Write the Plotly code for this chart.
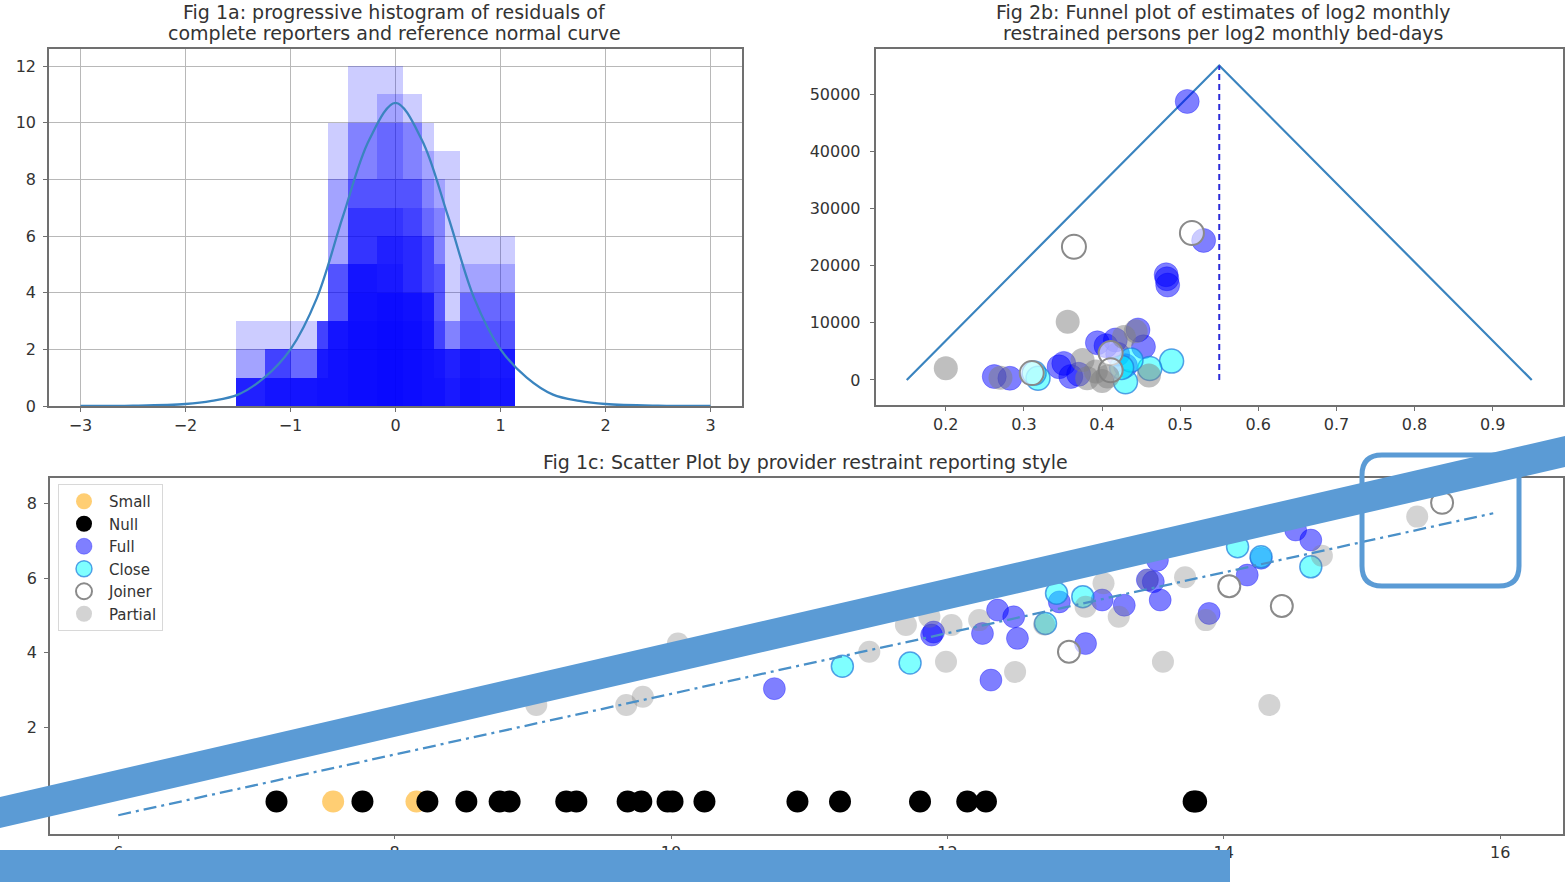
import plotly.graph_objects as go

# ---------------- data: Fig 1a (progressive histogram layers) ----------------
hist_edges = [-1.52, -1.24, -1.0, -0.75, -0.64, -0.45, -0.18, 0.07, 0.25, 0.37, 0.47, 0.61, 0.80, 1.14]
hist_layers = [
    [3, 3, 3, 3, 10, 12, 12, 11, 10, 9, 9, 6, 6],
    [2, 2, 2, 3, 8, 10, 11, 10, 9, 8, 3, 5, 5],
    [1, 2, 2, 3, 5, 10, 10, 10, 8, 7, 3, 4, 4],
    [1, 2, 1, 3, 5, 8, 10, 8, 7, 5, 2, 4, 4],
    [1, 2, 1, 3, 5, 8, 8, 8, 6, 5, 2, 3, 3],
    [1, 1, 1, 2, 3, 7, 7, 7, 6, 3, 2, 2, 2],
    [0, 1, 1, 2, 3, 7, 7, 6, 4, 2, 2, 2, 2],
    [0, 1, 1, 2, 3, 5, 6, 6, 4, 2, 0, 2, 2],
    [0, 0, 0, 1, 3, 5, 6, 4, 4, 2, 0, 2, 0],
    [0, 0, 0, 0, 0, 5, 4, 4, 0, 0, 0, 0, 0],
    [0, 0, 0, 0, 0, 0, 4, 0, 0, 0, 0, 0, 0],
    [1, 2, 2, 3, 3, 5, 5, 4, 4, 2, 2, 2, 2],
    [1, 1, 1, 2, 3, 4, 4, 4, 3, 2, 2, 2, 2],
    [1, 1, 1, 1, 2, 3, 3, 3, 2, 1, 1, 1, 1],
]
curve_x = [-3, -2.5, -2, -1.75, -1.5, -1.25, -1, -0.75, -0.5, -0.25, 0, 0.25, 0.5, 0.75, 1, 1.25, 1.5, 1.75, 2, 2.5, 3]
curve_y = [0, 0.01, 0.07, 0.18, 0.4, 1.0, 2.0, 3.8, 6.7, 9.4, 10.7, 9.4, 6.7, 3.8, 2.0, 1.0, 0.4, 0.18, 0.07, 0.01, 0]

# ---------------- data: Fig 2b (funnel) ----------------
funnel_x = [0.15, 0.55, 0.95]
funnel_y = [0, 55000, 0]
center_x = [0.55, 0.55]
center_y = [0, 55000]
f_full_x = [0.509, 0.530, 0.482, 0.484, 0.483, 0.446, 0.394, 0.417, 0.453, 0.351, 0.262, 0.282, 0.345, 0.360, 0.420, 0.430, 0.370, 0.405]
f_full_y = [48700, 24400, 18400, 16600, 17700, 8750, 6500, 7000, 5800, 2900, 600, 300, 2300, 600, 4500, 2500, 1000, 6000]
f_partial_x = [0.356, 0.200, 0.443, 0.375, 0.381, 0.407, 0.270, 0.400, 0.460, 0.428, 0.392]
f_partial_y = [10200, 2050, 8500, 3500, 300, 600, 400, -200, 800, 7500, 1500]
f_close_x = [0.489, 0.461, 0.430, 0.318, 0.313, 0.437, 0.425]
f_close_y = [3300, 2000, -300, 300, 1200, 3500, 2200]
f_joiner_x = [0.515, 0.364, 0.411, 0.411, 0.310]
f_joiner_y = [25700, 23300, 4700, 1700, 1200]

# ---------------- data: Fig 1c (scatter by reporting style) ----------------
small_x = [7.555, 8.158]
small_y = [0, 0]
null_x = [7.145, 7.767, 8.237, 8.519, 8.76, 8.832, 9.242, 9.315, 9.686, 9.785, 9.975, 10.011,
          10.242, 10.915, 11.223, 11.802, 12.144, 12.279, 13.782, 13.80]
null_y = [0, 0, 0, 0, 0, 0, 0, 0, 0, 0, 0, 0, 0, 0, 0, 0, 0, 0, 0, 0]
full_x = [10.748, 11.886, 11.90, 12.254, 12.315, 12.363, 12.48, 12.507, 13.0, 12.81, 13.12, 13.28,
          13.447, 13.49, 13.54, 13.52, 13.894, 14.17, 14.27, 14.52, 14.63]
full_y = [3.03, 4.47, 4.55, 4.51, 3.26, 5.14, 4.96, 4.38, 4.24, 5.36, 5.41, 5.27,
          5.95, 5.90, 5.41, 6.48, 5.05, 6.08, 6.53, 7.29, 7.02]
close_x = [11.24, 11.73, 12.71, 12.79, 12.98, 14.10, 14.27, 14.63]
close_y = [3.63, 3.72, 4.78, 5.59, 5.50, 6.84, 6.57, 6.30]
joiner_x = [12.88, 14.04, 14.42, 15.58]
joiner_y = [4.02, 5.78, 5.25, 8.02]
partial_x = [9.025, 9.676, 9.796, 10.05, 11.435, 11.70, 11.87, 12.03, 11.99, 12.23, 12.49,
             13.13, 13.24, 13.0, 13.72, 13.56, 13.87, 14.33, 14.71, 15.40, 12.70, 13.45]
partial_y = [2.59, 2.59, 2.81, 4.24, 4.02, 4.74, 4.96, 4.74, 3.75, 4.87, 3.48,
             5.86, 4.96, 5.23, 6.02, 3.75, 4.87, 2.59, 6.6, 7.65, 4.75, 5.95]
fit_x = [6.0, 15.95]
fit_y = [-0.37, 7.74]

# ---------------- styling / geometry ----------------
W, H = 1565, 882
FONT = "DejaVu Sans"
TXT = "#333333"
FRAME = "#707070"
C0 = "#3a84bf"
DECO = "#5b9bd5"
TITLE_SIZE = 19
TICK_SIZE = 16


def px(x):
    return x / W


def py(y):
    return 1 - y / H


fig = go.Figure()

# Fig 1a
centers = [(a + b) / 2 for a, b in zip(hist_edges[:-1], hist_edges[1:])]
widths = [b - a for a, b in zip(hist_edges[:-1], hist_edges[1:])]
for layer in hist_layers:
    fig.add_trace(go.Bar(x=centers, y=layer, width=widths, xaxis="x", yaxis="y",
                         marker=dict(color="rgba(0,0,255,0.2)", line=dict(width=0)),
                         showlegend=False, hoverinfo="skip"))
fig.add_trace(go.Scatter(x=curve_x, y=curve_y, mode="lines", xaxis="x", yaxis="y",
                         line=dict(color=C0, width=2.3, shape="spline"), showlegend=False))

# Fig 2b
fig.add_trace(go.Scatter(x=funnel_x, y=funnel_y, mode="lines", xaxis="x2", yaxis="y2",
                         line=dict(color=C0, width=2.2), showlegend=False))
fig.add_trace(go.Scatter(x=center_x, y=center_y, mode="lines", xaxis="x2", yaxis="y2",
                         line=dict(color="#2b2bd9", width=2, dash="6px,4px"), showlegend=False))
MS2 = 24
fig.add_trace(go.Scatter(x=f_full_x, y=f_full_y, mode="markers", xaxis="x2", yaxis="y2", showlegend=False,
                         marker=dict(size=MS2, color="rgba(0,0,255,0.5)", line=dict(width=1, color="rgba(0,0,255,0.3)"))))
fig.add_trace(go.Scatter(x=f_close_x, y=f_close_y, mode="markers", xaxis="x2", yaxis="y2", showlegend=False,
                         marker=dict(size=MS2, color="rgba(0,255,255,0.5)", line=dict(width=1.5, color="rgba(31,119,220,0.7)"))))
fig.add_trace(go.Scatter(x=f_joiner_x, y=f_joiner_y, mode="markers", xaxis="x2", yaxis="y2", showlegend=False,
                         marker=dict(size=MS2, color="rgba(255,255,255,0.6)", line=dict(width=2, color="#8a8a8a"))))
fig.add_trace(go.Scatter(x=f_partial_x, y=f_partial_y, mode="markers", xaxis="x2", yaxis="y2", showlegend=False,
                         marker=dict(size=MS2, color="rgba(128,128,128,0.5)", line=dict(width=0))))

# Fig 1c
MS3 = 22
fig.add_trace(go.Scatter(x=small_x, y=small_y, mode="markers", name="Small", xaxis="x3", yaxis="y3",
                         marker=dict(size=MS3, color="rgba(255,165,0,0.55)", line=dict(width=0))))
fig.add_trace(go.Scatter(x=null_x, y=null_y, mode="markers", name="Null", xaxis="x3", yaxis="y3",
                         marker=dict(size=MS3, color="black", line=dict(width=0))))
fig.add_trace(go.Scatter(x=full_x, y=full_y, mode="markers", name="Full", xaxis="x3", yaxis="y3",
                         marker=dict(size=MS3, color="rgba(0,0,255,0.5)", line=dict(width=1, color="rgba(0,0,255,0.3)"))))
fig.add_trace(go.Scatter(x=close_x, y=close_y, mode="markers", name="Close", xaxis="x3", yaxis="y3",
                         marker=dict(size=MS3, color="rgba(0,255,255,0.5)", line=dict(width=1.5, color="rgba(31,119,220,0.7)"))))
fig.add_trace(go.Scatter(x=joiner_x, y=joiner_y, mode="markers", name="Joiner", xaxis="x3", yaxis="y3",
                         marker=dict(size=MS3, color="rgba(255,255,255,0.6)", line=dict(width=2, color="#8a8a8a"))))
fig.add_trace(go.Scatter(x=partial_x, y=partial_y, mode="markers", name="Partial", xaxis="x3", yaxis="y3",
                         marker=dict(size=MS3, color="rgba(128,128,128,0.35)", line=dict(width=0))))
fig.add_trace(go.Scatter(x=fit_x, y=fit_y, mode="lines", xaxis="x3", yaxis="y3", showlegend=False,
                         line=dict(color="#4a90c8", width=2.3, dash="13px,5px,3px,5px")))

axis_common = dict(showline=True, mirror=True, linecolor=FRAME, linewidth=1.5,
                   ticks="outside", ticklen=4, tickcolor=FRAME, tickwidth=1,
                   tickfont=dict(family=FONT, size=TICK_SIZE, color=TXT),
                   zeroline=False, automargin=False, fixedrange=True)


def title_line(text, xc, yc):
    return dict(text=text, x=px(xc), y=py(yc), xref="paper", yref="paper",
                xanchor="center", yanchor="middle", showarrow=False,
                font=dict(family=FONT, size=TITLE_SIZE, color=TXT))


fig.update_layout(
    width=W, height=H,
    margin=dict(l=0, r=0, t=0, b=0),
    paper_bgcolor="white", plot_bgcolor="white",
    barmode="overlay", bargap=0,
    font=dict(family=FONT, color=TXT),
    xaxis=dict(axis_common, domain=[px(49), px(742)], range=[-3.3, 3.3], tickvals=[-3, -2, -1, 0, 1, 2, 3],
               showgrid=True, gridcolor="#b8b8b8", gridwidth=1, anchor="y"),
    yaxis=dict(axis_common, domain=[py(406), py(49)], range=[0, 12.6], tickvals=[0, 2, 4, 6, 8, 10, 12],
               showgrid=True, gridcolor="#b8b8b8", gridwidth=1, anchor="x", ticklabelstandoff=4),
    xaxis2=dict(axis_common, domain=[px(875.5), px(1563)], range=[0.11, 0.99],
                tickvals=[0.2, 0.3, 0.4, 0.5, 0.6, 0.7, 0.8, 0.9], showgrid=False, anchor="y2"),
    yaxis2=dict(axis_common, domain=[py(405), py(49)], range=[-4375, 57875],
                tickvals=[0, 10000, 20000, 30000, 40000, 50000], tickformat="d", showgrid=False, anchor="x2",
                ticklabelstandoff=6),
    xaxis3=dict(axis_common, domain=[px(50), px(1563)], range=[5.506, 16.455],
                tickvals=[6, 8, 10, 12, 14, 16], showgrid=False, anchor="y3"),
    yaxis3=dict(axis_common, domain=[py(833.5), py(477.5)], range=[-0.86, 8.70],
                tickvals=[0, 2, 4, 6, 8], showgrid=False, anchor="x3", ticklabelstandoff=4),
    legend=dict(x=px(58), y=py(484), xanchor="left", yanchor="top",
                bgcolor="rgba(255,255,255,0.9)", bordercolor="#d8d8d8", borderwidth=1,
                font=dict(family=FONT, size=15, color=TXT), itemwidth=40, tracegroupgap=0),
    annotations=[
        title_line("Fig 1a: progressive histogram of residuals of", 394, 12),
        title_line("complete reporters and reference normal curve", 394, 33),
        title_line("Fig 2b: Funnel plot of estimates of log2 monthly", 1223, 12),
        title_line("restrained persons per log2 monthly bed-days", 1223, 33),
        title_line("Fig 1c: Scatter Plot by provider restraint reporting style", 806, 462),
    ],
)

# decorative overlays (drawn on the picture)
rx0, rx1, ry0, ry1, rr = 1362, 1519, 455, 586, 20
rpath = (f"M {px(rx0 + rr)},{py(ry0)} L {px(rx1 - rr)},{py(ry0)} "
         f"Q {px(rx1)},{py(ry0)} {px(rx1)},{py(ry0 + rr)} L {px(rx1)},{py(ry1 - rr)} "
         f"Q {px(rx1)},{py(ry1)} {px(rx1 - rr)},{py(ry1)} L {px(rx0 + rr)},{py(ry1)} "
         f"Q {px(rx0)},{py(ry1)} {px(rx0)},{py(ry1 - rr)} L {px(rx0)},{py(ry0 + rr)} "
         f"Q {px(rx0)},{py(ry0)} {px(rx0 + rr)},{py(ry0)} Z")
band_path = (f"M {px(0)},{py(797)} L {px(W)},{py(436)} L {px(W)},{py(467)} L {px(0)},{py(828)} Z")
fig.update_layout(shapes=[
    dict(type="path", path=rpath, xref="paper", yref="paper", layer="above",
         line=dict(color=DECO, width=5), fillcolor="rgba(0,0,0,0)"),
    dict(type="path", path=band_path, xref="paper", yref="paper", layer="above",
         line=dict(width=0), fillcolor=DECO),
    dict(type="rect", x0=px(0), x1=px(1230), y0=py(882), y1=py(850), xref="paper", yref="paper",
         layer="above", line=dict(width=0), fillcolor=DECO),
])

fig.write_html("out.html", config={"displayModeBar": False},
               post_script="document.body.style.margin='0';document.body.style.overflow='hidden';")
